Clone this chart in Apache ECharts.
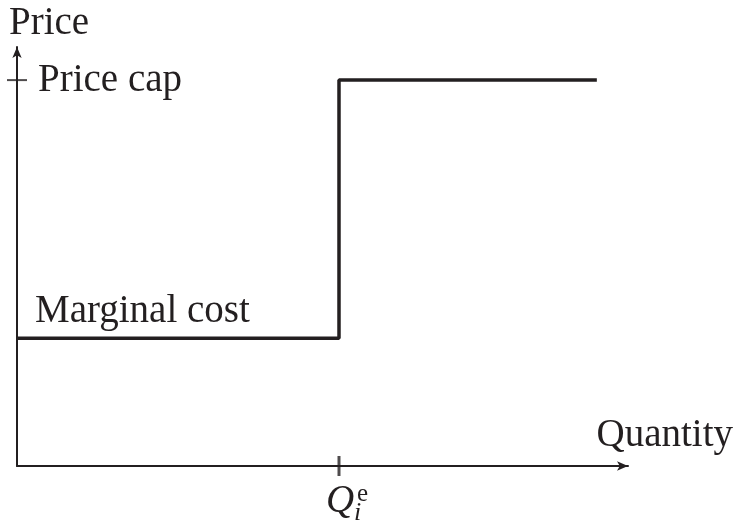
<!DOCTYPE html>
<html><head><meta charset="utf-8">
<script src="https://cdn.jsdelivr.net/npm/echarts@6/dist/echarts.min.js"></script>
<style>html,body{margin:0;padding:0;background:#fff}#c{width:735px;height:521px}</style>
</head><body><div id="c"></div>
<script>
// Data (arbitrary units)
const xMax = 100, yMax = 100;
const qe = 52.7;          // Q_i^e
const capEnd = 94.9;      // where the price-cap segment ends
const marginalCost = 30.5;
const priceCap = 92.1;
const stepX = [0, qe, qe, capEnd];
const stepY = [marginalCost, marginalCost, priceCap, priceCap];

const ink = '#231f20';
const serif = "'Liberation Serif','Times New Roman',serif";
const lab = (value, text, offset, align, size, style) => ({
  value, symbolSize: 1,
  label: { show: true, position: 'inside', formatter: text, offset, align, verticalAlign: 'middle',
    fontFamily: serif, fontSize: size || 39, fontStyle: style || 'normal', color: ink,
    opacity: 1, textBorderWidth: 0, textShadowBlur: 0 }
});

const chart = echarts.init(document.getElementById('c'));
chart.setOption({
  animation: false,
  grid: { left: 17, right: 107, top: 47, bottom: 55 },
  xAxis: { type: 'value', min: 0, max: xMax, splitLine: { show: false }, axisTick: { show: false }, axisLabel: { show: false },
    axisLine: { show: true, lineStyle: { color: ink, width: 2 }, symbol: ['none', 'arrow'], symbolSize: [7, 11] } },
  yAxis: { type: 'value', min: 0, max: yMax, splitLine: { show: false }, axisTick: { show: false }, axisLabel: { show: false },
    axisLine: { show: true, lineStyle: { color: ink, width: 2 }, symbol: ['none', 'arrow'], symbolSize: [7, 11] } },
  series: [
    { type: 'line', data: stepX.map((x, i) => [x, stepY[i]]), showSymbol: false, lineStyle: { color: ink, width: 3.5 }, z: 3 },
    { type: 'scatter', symbol: 'rect', clip: false, itemStyle: { color: ink }, z: 4, silent: true,
      data: [ { value: [qe, 0], symbolSize: [3, 20] }, { value: [0, priceCap], symbolSize: [20, 2] } ] },
    { type: 'scatter', clip: false, itemStyle: { color: 'rgba(0,0,0,0)' }, silent: true, z: 5,
      data: [
        lab([0, yMax], 'Price', [-8, -23], 'left'),
        lab([0, priceCap], 'Price cap', [21, 1], 'left'),
        lab([0, marginalCost], 'Marginal cost', [18, -26], 'left'),
        lab([xMax, 0], 'Quantity', [105, -30], 'right'),
        lab([qe, 0], 'Q', [-13, 36], 'left', 39, 'italic'),
        lab([qe, 0], 'e', [18, 28], 'left', 25),
        lab([qe, 0], 'i', [15, 47], 'left', 26, 'italic')
      ] }
  ]
});
</script></body></html>
